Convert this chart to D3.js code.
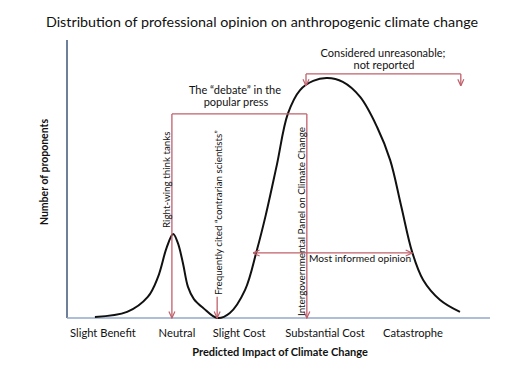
<!DOCTYPE html>
<html>
<head>
<meta charset="utf-8">
<script src="https://cdn.jsdelivr.net/npm/d3@7"></script>
<style>
  body { margin: 0; background: #fff; }
  svg text { font-family: Lato, "Open Sans", sans-serif; fill: #111; }
</style>
</head>
<body>
<div id="chart"></div>
<script>
// tick labels along the impact axis and where they sit (impact units 0..10)
const categories = ["Slight Benefit", "Neutral", "Slight Cost", "Substantial Cost", "Catastrophe"];
const categoryPos = [0.85, 2.6, 4.07, 6.1, 8.18];

// the opinion curve: impact vs number of proponents (0..100)
const impact = [0.66, 1.42, 1.91, 2.15, 2.36, 2.51, 2.62, 2.74, 2.86, 3.0, 3.22, 3.55, 3.85, 4.21, 4.49, 4.7, 4.96, 5.22, 5.51, 5.82, 6.15, 6.52, 6.93, 7.33, 7.64, 7.9, 8.16, 8.42, 8.82, 9.29];
const proponents = [0.4, 2.2, 7.6, 14.7, 25.5, 30.2, 27.0, 19.8, 11.2, 6.8, 3.6, 0, 1.8, 10.1, 24.5, 37.1, 55.0, 73.4, 82.0, 85.3, 86.3, 84.9, 79.5, 68.7, 56.8, 40.3, 23.7, 13.7, 6.5, 2.2];

// annotation anchors in data units
const debateBox = { left: 2.48, right: 5.67, top: 73.4 };
const contrarian = { x: 3.55, from: 7.6 };
const unreasonable = { left: 5.65, right: 9.31, top: 87.8, tip: 83.5 };
const informed = { left: 4.4, right: 8.16, level: 23.4 };

const width = 531, height = 377;
const x = d3.scaleLinear().domain([0, 10]).range([67, 490]);
const y = d3.scaleLinear().domain([0, 100]).range([318, 40]);
const red = "#c0606a";

const svg = d3.select("#chart").append("svg")
    .attr("width", width)
    .attr("height", height);

const defs = svg.append("defs");
defs.append("marker")
    .attr("id", "arrow")
    .attr("viewBox", "0 0 8 8")
    .attr("refX", 7.5).attr("refY", 4)
    .attr("markerWidth", 8).attr("markerHeight", 8)
    .attr("markerUnits", "userSpaceOnUse")
    .attr("orient", "auto-start-reverse")
    .append("path")
    .attr("d", "M1,1 L7.5,4 L1,7")
    .attr("fill", "none")
    .attr("stroke", red)
    .attr("stroke-width", 1.2);

// title
svg.append("text")
    .attr("x", 262).attr("y", 27)
    .attr("text-anchor", "middle")
    .style("font-size", "14.3px")
    .text("Distribution of professional opinion on anthropogenic climate change");

// axes
svg.append("line")
    .attr("x1", x(0)).attr("x2", x(0))
    .attr("y1", y(100)).attr("y2", y(0))
    .attr("stroke", "#3e5578").attr("stroke-width", 1.5);
svg.append("line")
    .attr("x1", x(0)).attr("x2", x(10))
    .attr("y1", y(0)).attr("y2", y(0))
    .attr("stroke", "#93a9c9").attr("stroke-width", 1.5);

svg.selectAll(".tick-label")
    .data(categories)
    .enter()
    .append("text")
    .attr("class", "tick-label")
    .attr("x", (d, i) => x(categoryPos[i]))
    .attr("y", 337)
    .attr("text-anchor", "middle")
    .style("font-size", "11.2px")
    .text(d => d);

svg.append("text")
    .attr("x", 280).attr("y", 356)
    .attr("text-anchor", "middle")
    .style("font-size", "11px")
    .style("font-weight", "bold")
    .text("Predicted Impact of Climate Change");

svg.append("text")
    .attr("transform", "translate(48,172) rotate(-90)")
    .attr("text-anchor", "middle")
    .style("font-size", "10.5px")
    .style("font-weight", "bold")
    .text("Number of proponents");

// curve
const points = impact.map((d, i) => [d, proponents[i]]);
const line = d3.line()
    .x(d => x(d[0]))
    .y(d => y(d[1]))
    .curve(d3.curveCatmullRom.alpha(0.5));

svg.append("path")
    .datum(points)
    .attr("d", line)
    .attr("fill", "none")
    .attr("stroke", "#111")
    .attr("stroke-width", 2);

// annotation lines
const ann = svg.append("g")
    .attr("fill", "none")
    .attr("stroke", red)
    .attr("stroke-width", 1.3);

ann.append("path")
    .attr("d", `M${x(debateBox.left)},${y(debateBox.top)} H${x(debateBox.right)}`);
[debateBox.left, debateBox.right].forEach(v => {
    ann.append("line")
        .attr("x1", x(v)).attr("x2", x(v))
        .attr("y1", y(debateBox.top)).attr("y2", y(0))
        .attr("marker-end", "url(#arrow)");
});

ann.append("line")
    .attr("x1", x(contrarian.x)).attr("x2", x(contrarian.x))
    .attr("y1", y(contrarian.from)).attr("y2", y(0))
    .attr("marker-end", "url(#arrow)");

ann.append("path")
    .attr("d", `M${x(unreasonable.left)},${y(unreasonable.top)} H${x(unreasonable.right)}`);
[unreasonable.left, unreasonable.right].forEach(v => {
    ann.append("line")
        .attr("x1", x(v)).attr("x2", x(v))
        .attr("y1", y(unreasonable.top)).attr("y2", y(unreasonable.tip))
        .attr("marker-end", "url(#arrow)");
});

ann.append("line")
    .attr("x1", x(informed.left)).attr("x2", x(informed.right))
    .attr("y1", y(informed.level)).attr("y2", y(informed.level))
    .attr("marker-start", "url(#arrow)")
    .attr("marker-end", "url(#arrow)");

// annotation text
const note = (tx, ty, str, anchor, size) => svg.append("text")
    .attr("x", tx).attr("y", ty)
    .attr("text-anchor", anchor || "middle")
    .style("font-size", (size || 11) + "px")
    .text(str);

note(383, 57, "Considered unreasonable;");
note(384, 69, "not reported");
note(235, 94, "The \u201cdebate\u201d in the");
note(236, 106, "popular press");
note(309, 262, "Most informed opinion", "start", 10.2);

const vnote = (tx, ty, str) => svg.append("text")
    .attr("transform", `translate(${tx},${ty}) rotate(-90)`)
    .attr("text-anchor", "start")
    .style("font-size", "9.8px")
    .text(str);

vnote(170, 228, "Right-wing  think tanks");
vnote(222, 295, "Frequently cited  \u201ccontrarian scientists\u201d");
vnote(305, 316, "Intergovernmental Panel on Climate Change");
</script>
</body>
</html>
